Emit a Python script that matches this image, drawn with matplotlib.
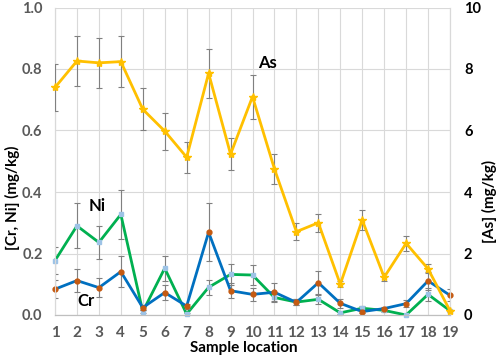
import numpy as np
import matplotlib
matplotlib.use('Agg')
import matplotlib.pyplot as plt

plt.rcParams['font.family'] = ['Lato', 'DejaVu Sans']

# data
sites = list(range(1, 20))
as_vals = [7.4, 8.26, 8.2, 8.24, 6.69, 5.98, 5.13, 7.86, 5.23, 7.1,
           4.75, 2.71, 3.0, 1.0, 3.09, 1.23, 2.33, 1.5, 0.14]
as_err = [0.75, 0.82, 0.82, 0.82, 0.68, 0.6, 0.5, 0.8, 0.52, 0.72,
          0.48, 0.28, 0.3, 0.1, 0.31, 0.12, 0.25, 0.15, 0.02]
cr_vals = [0.084, 0.112, 0.089, 0.141, 0.024, 0.073, 0.029, 0.269, 0.079, 0.067,
           0.074, 0.041, 0.105, 0.038, 0.011, 0.021, 0.037, 0.111, 0.064]
cr_err = [0.03, 0.037, 0.03, 0.05, 0.008, 0.025, 0.008, 0.094, 0.025, 0.02,
          0.03, 0.01, 0.038, 0.015, 0.005, 0.006, 0.012, 0.03, 0.02]
ni_vals = [0.177, 0.29, 0.236, 0.327, 0.011, 0.152, 0.003, 0.09, 0.132, 0.13,
           0.057, 0.042, 0.051, 0.007, 0.022, 0.015, 0.0, 0.067, 0.014]
ni_err = [0.043, 0.073, 0.054, 0.08, 0.004, 0.041, 0.002, 0.024, 0.035, 0.033,
          0.015, 0.01, 0.015, 0.003, 0.006, 0.004, 0.001, 0.02, 0.004]

grey_txt = '#595959'
err_col = '#808080'

fig = plt.figure(figsize=(4.98, 3.57), dpi=100)
ax = fig.add_axes([55/498, 42/357, 395/498, 307.5/357])
ax2 = ax.twinx()

# Cr and Ni on left axis
ni = ax.errorbar(sites, ni_vals, yerr=ni_err, color='#00B050', lw=2.0,
                 marker='s', ms=3.5, mfc='#9DC3E6', mec='#9DC3E6',
                 ecolor=err_col, elinewidth=0.8, capsize=2, capthick=0.8, zorder=3)
cr = ax.errorbar(sites, cr_vals, yerr=cr_err, color='#0070C0', lw=2.0,
                 marker='o', ms=3.5, mfc='#C55A11', mec='#C55A11',
                 ecolor=err_col, elinewidth=0.8, capsize=2, capthick=0.8, zorder=4)

# As on right axis
asl = ax2.errorbar(sites, as_vals, yerr=as_err, color='#FFC000', lw=2.0,
                   marker='*', ms=6, mfc='#FFC000', mec='#FFC000',
                   ecolor=err_col, elinewidth=0.8, capsize=2, capthick=0.8, zorder=3)
for eb in (ni, cr, asl):
    eb[0].set_clip_on(False)

ax.set_xlim(1, 19)
ax.set_ylim(0, 1.0)
ax2.set_ylim(0, 10)
ax.set_xticks(sites)
ax.set_yticks(np.arange(0, 1.01, 0.2))
ax.set_yticklabels(['%.1f' % v for v in np.arange(0, 1.01, 0.2)])
ax2.set_yticks(range(0, 11, 2))

ax.grid(True, color='#D9D9D9', lw=0.8)
ax.set_axisbelow(True)
for a in (ax, ax2):
    a.spines['top'].set_visible(False)
    a.spines['left'].set_color('#D9D9D9')
    a.spines['right'].set_color('#D9D9D9')
    a.spines['bottom'].set_color('#BFBFBF')
    a.tick_params(length=0)

ax.tick_params(axis='y', pad=9, labelsize=10.5, labelcolor=grey_txt)
ax.tick_params(axis='x', pad=8, labelsize=11, labelcolor=grey_txt)
for t in ax.get_yticklabels():
    t.set_fontweight('bold')
for t in ax.get_xticklabels():
    t.set_fontweight('bold')
ax2.tick_params(axis='y', pad=10, labelsize=10.5, labelcolor='black')
for t in ax2.get_yticklabels():
    t.set_fontweight('bold')

# series labels
ax2.text(10.7, 8.2, 'As', fontsize=12, fontweight='bold', ha='center', va='center')
ax.text(2.94, 0.354, 'Ni', fontsize=12, fontweight='bold', ha='center', va='center')
ax.text(2.41, 0.046, 'Cr', fontsize=12, fontweight='bold', ha='center', va='center')

fig.text(12/498, 1 - 198/357, '[Cr, Ni] (mg/kg)', rotation=90, fontsize=11,
         fontweight='bold', ha='center', va='center')
fig.text(489/498, 1 - 201/357, '[As] (mg/kg)', rotation=90, fontsize=11,
         fontweight='bold', ha='center', va='center')
fig.text(244/498, 1 - 348/357, 'Sample location', fontsize=11,
         fontweight='bold', ha='center', va='center')

fig.savefig('out.png', dpi=100)
